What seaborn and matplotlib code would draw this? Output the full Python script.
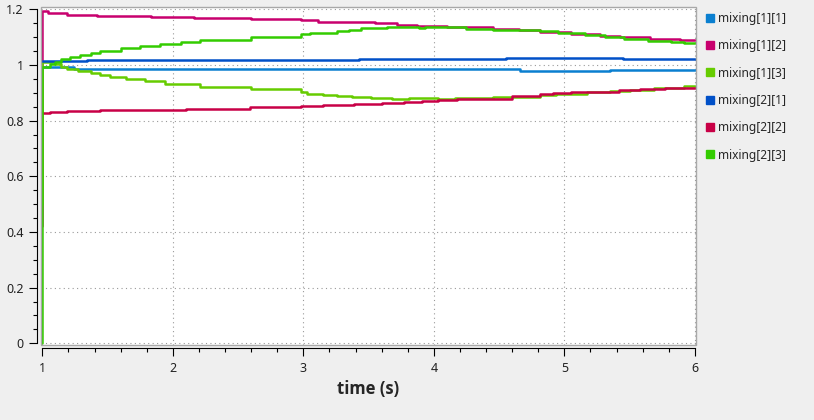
import numpy as np
import pandas as pd
import matplotlib
matplotlib.use("Agg")
import matplotlib.pyplot as plt
from matplotlib.lines import Line2D
from matplotlib.patches import Rectangle
from matplotlib.ticker import MultipleLocator
import seaborn as sns

# ------------------------
# DATA (step signals)
# ------------------------
series_names = ["mixing[1][1]", "mixing[1][2]", "mixing[1][3]",
                "mixing[2][1]", "mixing[2][2]", "mixing[2][3]"]
series_colors = ["#0a7fd0", "#c8006e", "#66cc00", "#0050c8", "#c80046", "#33cc00"]

t_m11 = [1.0, 1.24, 3.49, 4.66, 5.35, 6.0]
v_m11 = [0.992, 0.987, 0.984, 0.980, 0.983, 0.983]

t_m12 = [1.0, 1.0, 1.04, 1.19, 1.42, 1.83, 2.16, 2.6, 2.98, 3.11, 3.55, 3.72,
         3.87, 4.1, 4.25, 4.45, 4.65, 4.81, 5.05, 5.27, 5.43, 5.66, 5.89, 6.0]
v_m12 = [0.42, 1.194, 1.187, 1.181, 1.177, 1.174, 1.170, 1.166, 1.162, 1.156, 1.150, 1.145,
         1.140, 1.138, 1.136, 1.130, 1.124, 1.120, 1.112, 1.105, 1.100, 1.095, 1.090, 1.088]

t_m13 = [1.0, 1.0, 1.10, 1.14, 1.19, 1.27, 1.37, 1.44, 1.52, 1.64, 1.79, 1.94, 2.21,
         2.6, 2.98, 3.03, 3.15, 3.26, 3.37, 3.52, 3.68, 3.81, 4.03, 4.16, 4.45, 4.81,
         4.94, 5.17, 5.35, 5.5, 5.69, 5.92, 6.0]
v_m13 = [0.5, 1.011, 1.004, 0.994, 0.986, 0.978, 0.970, 0.964, 0.957, 0.949, 0.941, 0.932, 0.922,
         0.912, 0.902, 0.897, 0.892, 0.887, 0.884, 0.881, 0.878, 0.881, 0.878, 0.882, 0.886, 0.892,
         0.896, 0.903, 0.908, 0.911, 0.917, 0.926, 0.926]

t_m21 = [1.0, 1.34, 3.43, 4.55, 5.45, 6.0]
v_m21 = [1.016, 1.019, 1.023, 1.026, 1.022, 1.022]

t_m22 = [1.0, 1.06, 1.19, 1.44, 1.75, 2.1, 2.59, 2.98, 3.15, 3.39, 3.60, 3.77,
         3.91, 4.03, 4.18, 4.6, 4.81, 4.91, 5.05, 5.17, 5.42, 5.58, 5.77, 6.0]
v_m22 = [0.828, 0.831, 0.835, 0.838, 0.839, 0.843, 0.848, 0.853, 0.857, 0.861, 0.864, 0.868,
         0.872, 0.874, 0.878, 0.888, 0.896, 0.899, 0.902, 0.904, 0.909, 0.914, 0.918, 0.918]

t_m23 = [1.0, 1.0, 1.06, 1.10, 1.14, 1.21, 1.29, 1.37, 1.44, 1.60, 1.75, 1.90, 2.06,
         2.21, 2.6, 2.98, 3.05, 3.26, 3.35, 3.44, 3.64, 3.89, 3.93, 4.25, 4.45, 4.81,
         4.95, 5.16, 5.31, 5.46, 5.64, 5.82, 5.92, 6.0]
v_m23 = [0.0, 0.994, 1.004, 1.011, 1.020, 1.029, 1.036, 1.042, 1.049, 1.061, 1.068, 1.076, 1.083,
         1.090, 1.100, 1.113, 1.116, 1.122, 1.127, 1.133, 1.137, 1.133, 1.137, 1.131, 1.127, 1.122,
         1.116, 1.109, 1.102, 1.095, 1.087, 1.083, 1.079, 1.079]

times = [t_m11, t_m12, t_m13, t_m21, t_m22, t_m23]
values = [v_m11, v_m12, v_m13, v_m21, v_m22, v_m23]

df = pd.concat(
    [pd.DataFrame({"time": t, "value": v, "signal": name})
     for name, t, v in zip(series_names, times, values)],
    ignore_index=True,
)

# ------------------------
# PLOT
# ------------------------
sns.set_style("white")
plt.rcParams["font.family"] = ["Noto Sans", "DejaVu Sans"]

fig = plt.figure(figsize=(8.14, 4.2), dpi=100, facecolor="#efefef")
ax = fig.add_axes([40.5 / 814, 75 / 420, 655.5 / 814, 337.7 / 420])
ax.set_facecolor("white")

sns.lineplot(
    data=df, x="time", y="value", hue="signal",
    hue_order=series_names, palette=series_colors,
    estimator=None, sort=False, drawstyle="steps-post",
    linewidth=1.8, legend=False, ax=ax,
)

ax.set_xlim(0.986, 6.009)
ax.set_ylim(-0.006, 1.2072)

ax.xaxis.set_major_locator(MultipleLocator(1))
ax.xaxis.set_minor_locator(MultipleLocator(0.2))
ax.yaxis.set_minor_locator(MultipleLocator(0.05))
ax.set_yticks(np.arange(0, 1.21, 0.2))
ax.set_yticklabels(["0", "0.2", "0.4", "0.6", "0.8", "1", "1.2"])

ax.grid(True, which="major", color="#999999", linestyle=(0, (1, 3)), linewidth=0.8)

ax.tick_params(axis="both", which="major", direction="out", length=5.5, width=0.8,
               color="black", labelsize=9, labelcolor="#222222")
ax.tick_params(axis="both", which="minor", direction="out", length=3.2, width=0.8,
               color="black")
ax.tick_params(axis="y", which="both", left=True, pad=4)
ax.tick_params(axis="x", which="both", bottom=True, pad=4)

for side in ["top", "right"]:
    ax.spines[side].set_visible(False)
for side in ["left", "bottom"]:
    ax.spines[side].set_position(("outward", 2.5))
    ax.spines[side].set_color("black")
    ax.spines[side].set_linewidth(0.8)
ax.spines["left"].set_bounds(0, 1.2)
ax.spines["bottom"].set_bounds(1, 6)

# gray frame round the plot area
ax.add_patch(Rectangle((0, 0), 1, 1, transform=ax.transAxes, fill=False,
                       edgecolor="#a8a8a8", linewidth=1.0, clip_on=False, zorder=5))

ax.set_xlabel("time (s)", fontsize=12, fontweight="bold", labelpad=4,
              family=["Open Sans", "DejaVu Sans"])
ax.set_ylabel("")

handles = [Line2D([], [], marker="s", linestyle="", markersize=5.8, color=c)
           for c in series_colors]
fig.legend(handles, series_names, loc="upper left",
           bbox_to_anchor=(706 / 814, 1 - 12 / 420), frameon=False,
           fontsize=8.6, handlelength=0.6, handletextpad=0.4,
           labelspacing=1.2, borderpad=0, borderaxespad=0)

fig.savefig("out.png", dpi=100, facecolor=fig.get_facecolor())
